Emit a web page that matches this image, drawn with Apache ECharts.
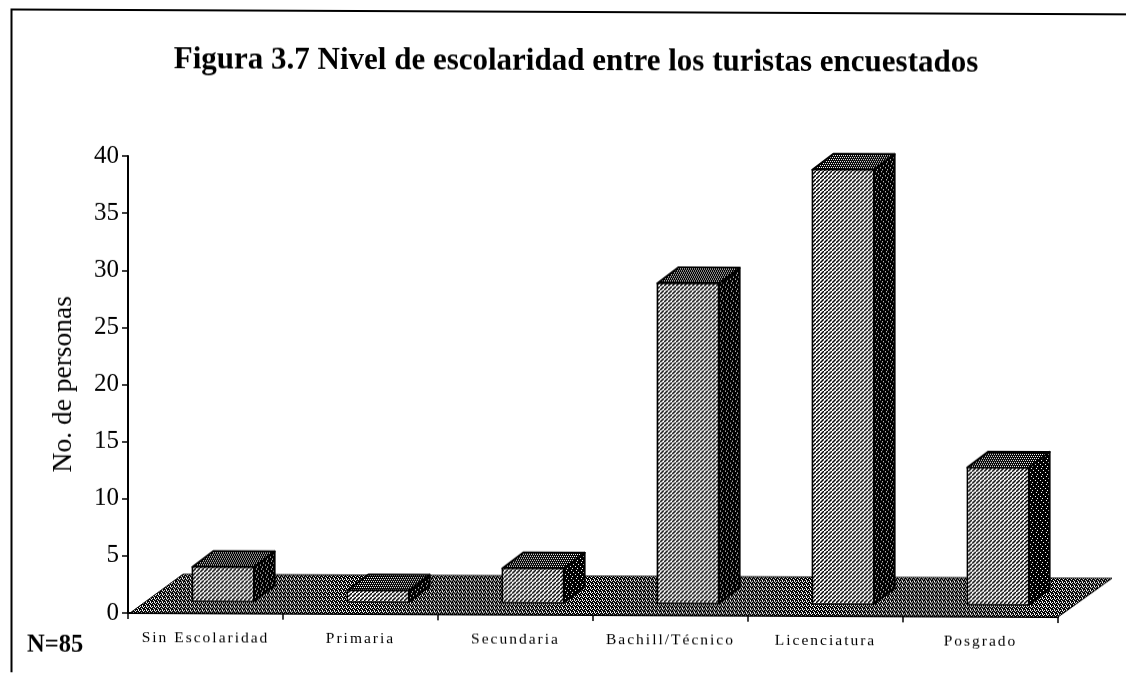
<!DOCTYPE html>
<html><head><meta charset="utf-8">
<script src="https://cdn.jsdelivr.net/npm/echarts@6/dist/echarts.min.js"></script>
<style>
html,body{margin:0;padding:0;background:#fff;overflow:hidden}
#c{width:1126px;height:673px;transform-origin:128px 613px;transform:skewY(0.25deg)}
</style></head><body><div id="c"></div>
<script>
const categories = ['Sin Escolaridad','Primaria','Secundaria','Bachill/Técnico','Licenciatura','Posgrado'];
const personas = [3,1,3,28,38,12];
const titleText = 'Figura 3.7 Nivel de escolaridad entre los turistas encuestados';
const yName = 'No. de personas';
const sampleNote = 'N=85';

// Axis category labels in the scan are widely letter-spaced
const ft = CanvasRenderingContext2D.prototype.fillText;
CanvasRenderingContext2D.prototype.fillText = function(){
  this.letterSpacing = this.font.indexOf('15.5px') >= 0 ? '2px' : '0px';
  return ft.apply(this, arguments);
};

function pat(rows){
  const cv = document.createElement('canvas');
  cv.width = rows[0].length; cv.height = rows.length;
  const g = cv.getContext('2d');
  rows.forEach((r,y)=>{ [...r].forEach((ch,x)=>{ g.fillStyle = ch==='#'?'#000':(ch==='+'?'#777':'#fff'); g.fillRect(x,y,1,1); }); });
  return {image:cv, repeat:'repeat'};
}
const floorFill = pat(['#.##','##.#','.#.#','###.']);
const frontFill = pat(['..+#','.+#+','+#+.','#+..']);
const topFill   = pat(['#.#.','####','.#.#','####']);
const sideFill  = pat(['#.###','#####','###.#','#####','.####','#####','##.##','#####']);

const depthX=21, depthY=16, baseUp=12, barShift=17.5, barRatio=0.395;

function renderFloor(params, api){
  const n = categories.length, w = api.size([1,0])[0];
  const a = api.coord([0,0]), b = api.coord([n-1,0]);
  const l = a[0]-w/2, r = b[0]+w/2, y = a[1];
  return {type:'polygon', shape:{points:[[l+2,y],[l+55,y-39],[r+54,y-39],[r,y]]},
    style:{fill:floorFill, stroke:'#000', lineWidth:1}};
}
function renderBar(params, api){
  const c0 = api.coord([api.value(0),0]), c1 = api.coord([api.value(0),api.value(1)]);
  const w = api.size([1,0])[0]*barRatio;
  const x1 = c0[0]+barShift-w/2, x2 = x1+w, yb = c0[1]-baseUp, yt = c1[1]-baseUp;
  const edge = {stroke:'#000', lineWidth:2, lineJoin:'round'};
  return {type:'group', children:[
    {type:'polygon', shape:{points:[[x2,yt],[x2+depthX,yt-depthY],[x2+depthX,yb-depthY],[x2,yb]]}, style:Object.assign({fill:sideFill},edge)},
    {type:'polygon', shape:{points:[[x1,yt],[x1+depthX,yt-depthY],[x2+depthX,yt-depthY],[x2,yt]]}, style:Object.assign({fill:topFill},edge)},
    {type:'polygon', shape:{points:[[x1,yt],[x2,yt],[x2,yb],[x1,yb]]}, style:Object.assign({fill:frontFill},edge,{lineWidth:1.5})}
  ]};
}
const serif = '"Liberation Serif"';
const chart = echarts.init(document.getElementById('c'), null, {renderer:'canvas'});
chart.setOption({
  animation:false,
  backgroundColor:'#fff',
  title:{text:titleText, left:571, top:39, textAlign:'center',
    textStyle:{fontFamily:serif,fontWeight:'bold',fontSize:31,color:'#000'}},
  grid:{left:128, right:68, top:156, bottom:60},
  xAxis:{type:'category', data:categories,
    axisLine:{lineStyle:{color:'#000',width:2}},
    axisTick:{show:true,alignWithLabel:false,length:6,lineStyle:{color:'#000',width:1.5}},
    axisLabel:{fontFamily:serif,fontSize:15.5,color:'#000',margin:17,interval:0}},
  yAxis:{type:'value', min:0, max:40, interval:5,
    name:yName, nameLocation:'middle', nameGap:50, nameRotate:90,
    nameTextStyle:{fontFamily:serif,fontSize:27.5,color:'#000'},
    axisLine:{show:true,lineStyle:{color:'#000',width:2}},
    axisTick:{show:true,length:6,lineStyle:{color:'#000',width:1.5}},
    axisLabel:{fontFamily:serif,fontSize:25,color:'#000',margin:9},
    splitLine:{show:false}},
  graphic:[
    {type:'polyline',shape:{points:[[11.5,673],[11.5,10],[1126,10]]},style:{stroke:'#000',lineWidth:2,fill:'none'},silent:true},
    {type:'text',left:27,top:633,style:{text:sampleNote,fontFamily:serif,fontWeight:'bold',fontSize:24.5,fill:'#000'},silent:true}
  ],
  series:[
    {type:'custom',name:'piso',data:[[0,0]],encode:{x:0,y:1},renderItem:renderFloor,clip:false,z:1,silent:true},
    {type:'custom',name:'No. de personas',data:personas.map((v,i)=>[i,v]),encode:{x:0,y:1},renderItem:renderBar,clip:false,z:3,silent:true}
  ]
});
</script></body></html>
